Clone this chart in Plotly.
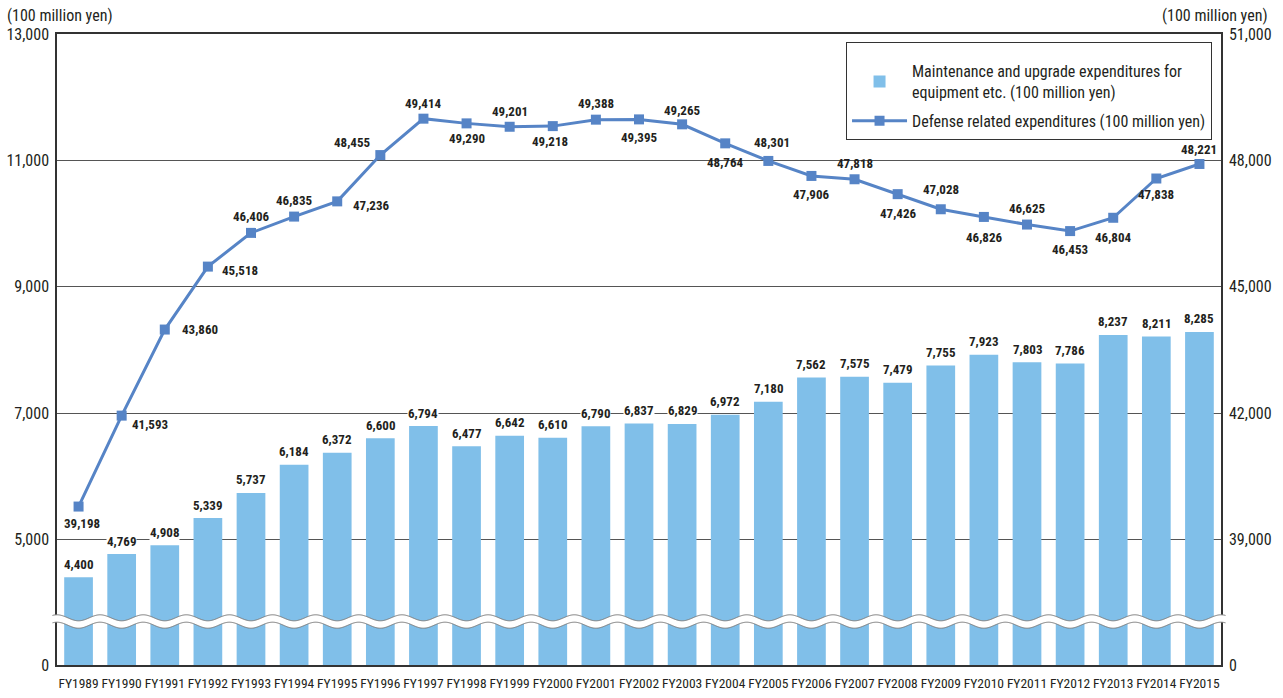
import numpy as np
import plotly.graph_objects as go

# ---------------- data ----------------
years = ["FY1989", "FY1990", "FY1991", "FY1992", "FY1993", "FY1994", "FY1995",
         "FY1996", "FY1997", "FY1998", "FY1999", "FY2000", "FY2001", "FY2002",
         "FY2003", "FY2004", "FY2005", "FY2006", "FY2007", "FY2008", "FY2009",
         "FY2010", "FY2011", "FY2012", "FY2013", "FY2014", "FY2015"]
maintenance = [4400, 4769, 4908, 5339, 5737, 6184, 6372, 6600, 6794, 6477, 6642,
               6610, 6790, 6837, 6829, 6972, 7180, 7562, 7575, 7479, 7755, 7923,
               7803, 7786, 8237, 8211, 8285]
defense = [39198, 41593, 43860, 45518, 46406, 46835, 47236, 48455, 49414, 49290,
           49201, 49218, 49388, 49395, 49265, 48764, 48301, 47906, 47818, 47426,
           47028, 46826, 46625, 46453, 46804, 47838, 48221]
left_tick_text = ["0", "5,000", "7,000", "9,000", "11,000", "13,000"]
right_tick_text = ["0", "39,000", "42,000", "45,000", "48,000", "51,000"]
bar_name = "Maintenance and upgrade expenditures for<br>equipment etc. (100 million yen)"
line_name = "Defense related expenditures (100 million yen)"
unit_label = "(100 million yen)"

# ---------------- styling / layout helpers ----------------
FONT = "Roboto Condensed, Roboto, sans-serif"
BAR_COLOR = "#80BFE9"
LINE_COLOR = "#5684C6"
TEXT_COLOR = "#231F20"

# broken axes: bottom of the plot shows "0"
left_range = [3013, 13000]
right_range = [35025, 51644]
left_tick_pos = [3013, 5000, 7000, 9000, 11000, 13000]
right_tick_pos = [right_range[0] + (v - left_range[0]) / (left_range[1] - left_range[0])
                  * (right_range[1] - right_range[0]) for v in left_tick_pos]

# label offsets for the line labels (dx, dy in px; dy>0 = downward)
line_label_offsets = [(3, 17), (28, 9), (35, 0), (32, 4), (0, -16), (0, -16), (34, 4),
                      (-28, -13), (0, -15), (0, 15), (0, -15), (-3, 15), (0, -16),
                      (0, 18), (0, -14), (0, 19), (4, -18), (0, 19), (0, -16), (0, 19),
                      (0, -20), (0, 21), (0, -16), (0, 18), (0, 20), (0, 16), (0, -14)]

fig = go.Figure()
fig.add_trace(go.Bar(x=years, y=maintenance, name=bar_name, marker_color=BAR_COLOR,
                     marker_line_width=0, yaxis="y", legendgroup="a"))
fig.add_trace(go.Scatter(x=years, y=defense, name=line_name, mode="lines+markers",
                         line=dict(color=LINE_COLOR, width=3),
                         marker=dict(symbol="square", size=10, color=LINE_COLOR),
                         yaxis="y2", legendgroup="b"))

annotations = []
for yr, v in zip(years, maintenance):
    annotations.append(dict(x=yr, y=v, xref="x", yref="y", text=f"<b>{v:,}</b>",
                            showarrow=False, yanchor="middle", yshift=13,
                            bgcolor="white", borderpad=0,
                            font=dict(family=FONT, size=13, color=TEXT_COLOR)))
for (yr, v), (dx, dy) in zip(zip(years, defense), line_label_offsets):
    annotations.append(dict(x=yr, y=v, xref="x", yref="y2", text=f"<b>{v:,}</b>",
                            showarrow=False, xshift=dx, yshift=-dy,
                            font=dict(family=FONT, size=13, color=TEXT_COLOR)))
annotations.append(dict(x=-0.0451, y=1, xref="paper", yref="paper", text=unit_label,
                        showarrow=False, xanchor="left", yanchor="middle", yshift=19,
                        font=dict(family=FONT, size=16, color=TEXT_COLOR)))
annotations.append(dict(x=1.0421, y=1, xref="paper", yref="paper", text=unit_label,
                        showarrow=False, xanchor="right", yanchor="middle", yshift=19,
                        font=dict(family=FONT, size=16, color=TEXT_COLOR)))

# wavy axis-break band (decoration)
plot_w = 1283 - 57 - 62
plot_h = 698 - 34 - 33
xs_px = np.arange(-4.5, plot_w + 5, 0.5)
wave = 3.0 * np.cos(2 * np.pi * xs_px / (plot_w / 27))
c_px = 43.5
top_edge = (c_px + 3.7 + wave) / plot_h
bot_edge = (c_px - 3.7 + wave) / plot_h
xs = xs_px / plot_w


def poly(xv, yv):
    return "M" + " L".join(f"{a:.5f},{b:.5f}" for a, b in zip(xv, yv))


band = poly(np.concatenate([xs, xs[::-1]]), np.concatenate([top_edge, bot_edge[::-1]])) + " Z"
shapes = [
    dict(type="path", path=band, xref="paper", yref="paper", fillcolor="white",
         line=dict(width=0), layer="above"),
    dict(type="path", path=poly(xs, top_edge), xref="paper", yref="paper",
         line=dict(color="#777777", width=1), layer="above"),
    dict(type="path", path=poly(xs, bot_edge), xref="paper", yref="paper",
         line=dict(color="#777777", width=1), layer="above"),
]

fig.update_layout(
    width=1283, height=698,
    margin=dict(l=57, r=62, t=34, b=33),
    paper_bgcolor="white", plot_bgcolor="white",
    font=dict(family=FONT, size=15, color=TEXT_COLOR),
    bargap=0.334,
    showlegend=True,
    legend=dict(x=0.9923, xanchor="right", y=0.988, yanchor="top",
                bordercolor="#333333", borderwidth=1, bgcolor="white",
                font=dict(family=FONT, size=16, color=TEXT_COLOR),
                title=dict(text=" ", font=dict(size=9)),
                itemwidth=55, traceorder="grouped", tracegroupgap=5),
    xaxis=dict(type="category", range=[-0.5, 26.5], showline=True, linecolor="#333333",
               linewidth=1.5, mirror=True, ticks="", showgrid=False, tickangle=0,
               ticklabelstandoff=5, automargin=False,
               tickfont=dict(family=FONT, size=13.5, color=TEXT_COLOR)),
    yaxis=dict(range=left_range, tickvals=left_tick_pos, ticktext=left_tick_text,
               showgrid=True, gridcolor="#555555", gridwidth=1, showline=True,
               linecolor="#333333", linewidth=1.5, ticks="", zeroline=False,
               ticklabelstandoff=3, automargin=False,
               tickfont=dict(family=FONT, size=16, color=TEXT_COLOR)),
    yaxis2=dict(range=right_range, tickvals=right_tick_pos, ticktext=right_tick_text,
                overlaying="y", side="right", showgrid=False, showline=True,
                linecolor="#333333", linewidth=1.5, ticks="", zeroline=False,
                ticklabelstandoff=3, automargin=False,
                tickfont=dict(family=FONT, size=16, color=TEXT_COLOR)),
    annotations=annotations,
    shapes=shapes,
)

fig.write_html("out.html",
               config={"displayModeBar": False},
               post_script="document.body.style.margin='0px';"
                           "document.body.style.overflow='hidden';")
